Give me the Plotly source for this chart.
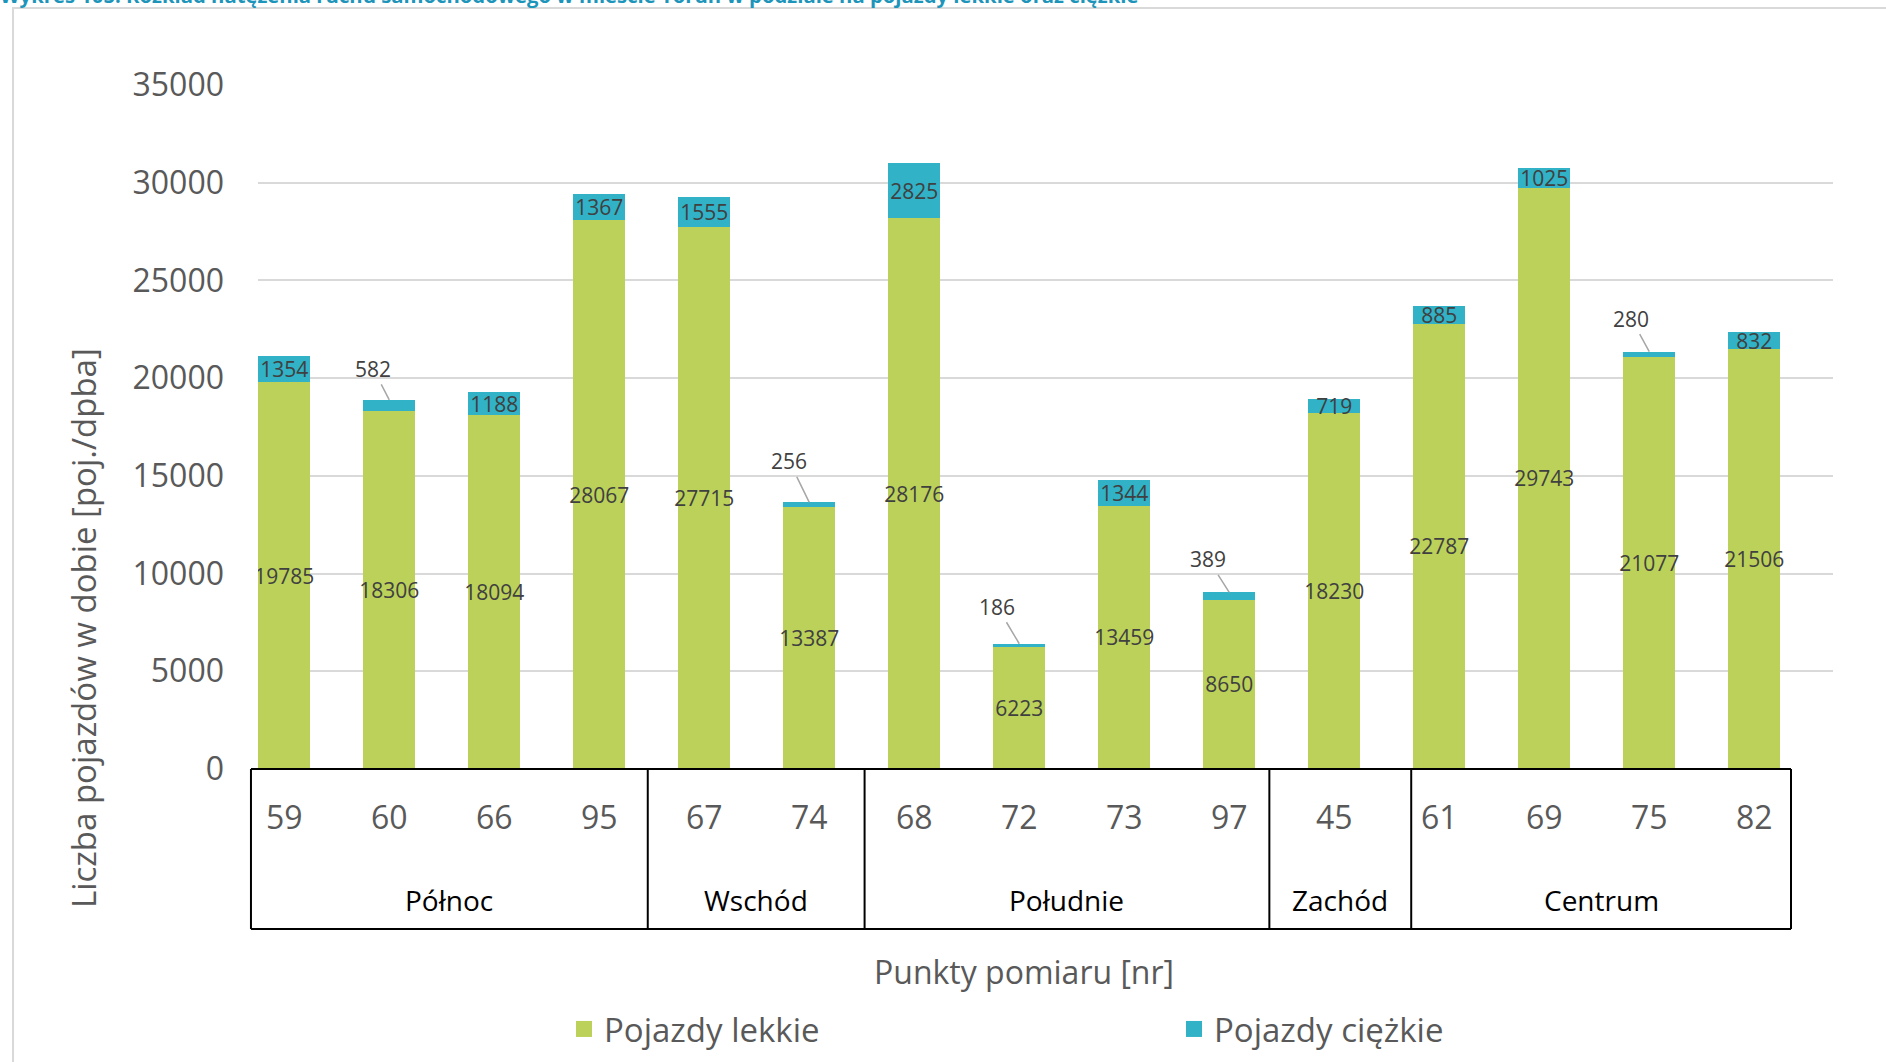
import plotly.graph_objects as go

# ---------------- data ----------------
categories = ["59", "60", "66", "95", "67", "74", "68", "72", "73", "97", "45", "61", "69", "75", "82"]
light = [19785, 18306, 18094, 28067, 27715, 13387, 28176, 6223, 13459, 8650, 18230, 22787, 29743, 21077, 21506]
heavy = [1354, 582, 1188, 1367, 1555, 256, 2825, 186, 1344, 389, 719, 885, 1025, 280, 832]
group_names = ["Północ", "Wschód", "Południe", "Zachód", "Centrum"]
group_sizes = [4, 2, 4, 1, 4]
series_names = ["Pojazdy lekkie", "Pojazdy ciężkie"]
y_ticks = [0, 5000, 10000, 15000, 20000, 25000, 30000, 35000]

# ---------------- styling / layout constants ----------------
GREEN = "#BBD15A"
TEAL = "#31B2C6"
GREY_TXT = "#595959"
LABEL_TXT = "#404040"
FONT = "Open Sans"
W, H = 1886, 1062
ML, MR, MT, MB = 258, 53, 85, 293
XR = [-0.25, 14.75]
# heavy-series labels placed outside with leader lines (index -> pixel offset of label)
callouts = {1: (-16, -31), 5: (-20, -41), 7: (-22, -37), 9: (-21, -33), 13: (-18, -33)}
# hand-drawn category box edges (category units)
box_edges = [-0.317, 3.462, 5.527, 9.382, 10.733, 14.35]

pw = W - ML - MR
ph = H - MT - MB


def px_to_paper_x(px):
    return (px - ML) / pw


def px_to_paper_y(py):
    return (H - MB - py) / ph


def cat_to_paper(d):
    return (d - XR[0]) / (XR[1] - XR[0])


heavy_text = ["" if i in callouts else str(v) for i, v in enumerate(heavy)]

fig = go.Figure()
fig.add_trace(go.Bar(
    x=categories, y=light, name=series_names[0], marker_color=GREEN,
    marker_line_width=0,
    text=[str(v) for v in light], textposition="inside", insidetextanchor="middle",
    textangle=0, constraintext="none",
    textfont=dict(family=FONT, size=21, color=LABEL_TXT), showlegend=False,
))
fig.add_trace(go.Bar(
    x=categories, y=heavy, name=series_names[1], marker_color=TEAL,
    marker_line_width=0,
    text=heavy_text, textposition="inside", insidetextanchor="middle",
    textangle=0, constraintext="none",
    textfont=dict(family=FONT, size=21, color=LABEL_TXT), showlegend=False,
))
# legend entries
for nm, col in zip(series_names, [GREEN, TEAL]):
    fig.add_trace(go.Scatter(
        x=[None], y=[None], mode="markers", name=nm,
        marker=dict(symbol="square", size=19, color=col),
    ))

annotations = []
# callout labels for thin heavy segments
for i, (ax, ay) in callouts.items():
    annotations.append(dict(
        x=i, y=light[i] + heavy[i], xref="x", yref="y",
        text=str(heavy[i]), showarrow=True, ax=ax, ay=ay,
        arrowhead=0, arrowwidth=1.5, arrowcolor="#A6A6A6", standoff=0,
        font=dict(family=FONT, size=21, color=LABEL_TXT),
    ))

shapes = []
box_top = 0.0
box_bottom = px_to_paper_y(929)
xl = cat_to_paper(box_edges[0])
xr = cat_to_paper(box_edges[-1])
shapes.append(dict(type="line", xref="paper", yref="paper", x0=xl, x1=xr, y0=box_top, y1=box_top,
                   line=dict(color="black", width=2)))
shapes.append(dict(type="line", xref="paper", yref="paper", x0=xl, x1=xr, y0=box_bottom, y1=box_bottom,
                   line=dict(color="black", width=2)))
for e in box_edges:
    xe = cat_to_paper(e)
    shapes.append(dict(type="line", xref="paper", yref="paper", x0=xe, x1=xe, y0=box_bottom, y1=box_top,
                       line=dict(color="black", width=2)))
for gi, g in enumerate(group_names):
    xm = cat_to_paper((box_edges[gi] + box_edges[gi + 1]) / 2)
    annotations.append(dict(x=xm, y=px_to_paper_y(900), xref="paper", yref="paper", text=g,
                            showarrow=False, xanchor="center", yanchor="middle",
                            font=dict(family=FONT, size=28, color="black")))

# outer light frame
shapes.append(dict(type="rect", xref="paper", yref="paper", x0=px_to_paper_x(13), x1=px_to_paper_x(W + 20),
                   y0=px_to_paper_y(H + 20), y1=px_to_paper_y(8), line=dict(color="#D9D9D9", width=2),
                   fillcolor="rgba(0,0,0,0)", layer="below"))

# axis titles
annotations.append(dict(x=px_to_paper_x(83), y=px_to_paper_y(628), xref="paper", yref="paper",
                        text="Liczba pojazdów w dobie [poj./dpba]", textangle=-90, showarrow=False,
                        xanchor="center", yanchor="middle", font=dict(family=FONT, size=33, color=GREY_TXT)))
annotations.append(dict(x=px_to_paper_x(1024), y=px_to_paper_y(971), xref="paper", yref="paper",
                        text="Punkty pomiaru [nr]", showarrow=False,
                        xanchor="center", yanchor="middle", font=dict(family=FONT, size=32, color=GREY_TXT)))
# caption at the very top (cut off by the page edge, as in the source)
annotations.append(dict(x=px_to_paper_x(-2), y=px_to_paper_y(-5), xref="paper", yref="paper",
                        text="<b>Wykres 105. Rozkład natężenia ruchu samochodowego w mieście Toruń w podziale na pojazdy lekkie oraz ciężkie</b>",
                        showarrow=False, xanchor="left", yanchor="middle",
                        font=dict(family=FONT, size=20.3, color="#1D95BA")))

fig.update_layout(
    width=W, height=H, margin=dict(l=ML, r=MR, t=MT, b=MB, pad=0, autoexpand=False),
    paper_bgcolor="white", plot_bgcolor="white",
    barmode="stack", bargap=0.505,
    font=dict(family=FONT, color=GREY_TXT),
    xaxis=dict(type="category", range=XR, showgrid=False, showline=False, zeroline=False, automargin=False,
               ticks="", tickfont=dict(family=FONT, size=32, color=GREY_TXT), ticklabelstandoff=27),
    yaxis=dict(range=[0, 35000], tickvals=y_ticks, tickformat="d", showgrid=True, gridcolor="#D9D9D9",
               gridwidth=2, zeroline=False, showline=False, ticks="", automargin=False,
               tickfont=dict(family=FONT, size=32, color=GREY_TXT), ticklabelstandoff=33),
    legend=dict(orientation="h", traceorder="normal", x=px_to_paper_x(564), y=px_to_paper_y(1029),
                xanchor="left", yanchor="middle",
                entrywidth=565, entrywidthmode="pixels", font=dict(family=FONT, size=33, color=GREY_TXT),
                bgcolor="rgba(0,0,0,0)", itemsizing="trace"),
    annotations=annotations, shapes=shapes,
)

fig.write_html("out.html", config={"displayModeBar": False},
               post_script="document.body.style.margin='0';document.body.style.overflow='hidden';")
